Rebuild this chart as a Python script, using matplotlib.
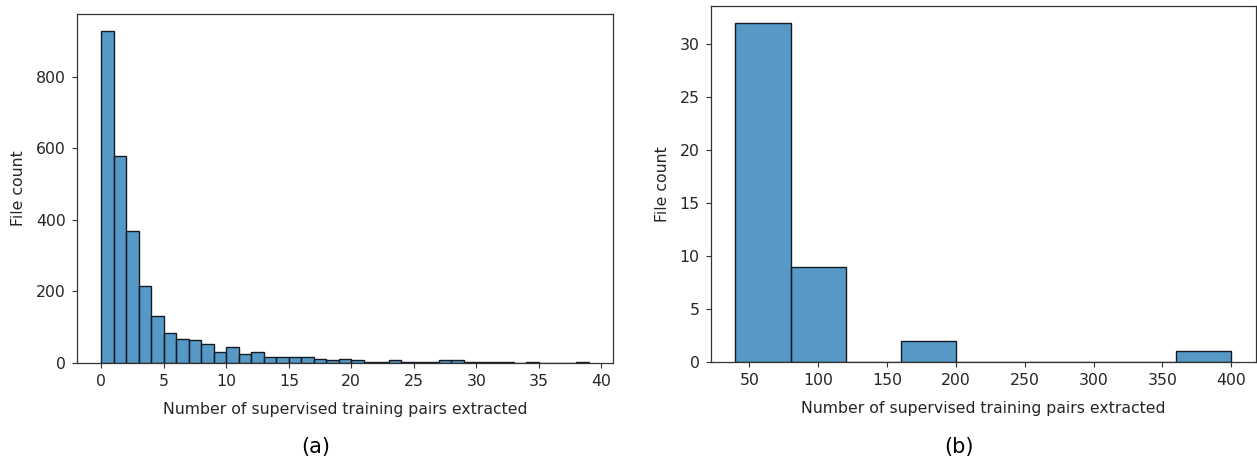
import numpy as np
import matplotlib
matplotlib.use("Agg")
import matplotlib.pyplot as plt

# Per-file counts of extracted supervised training pairs, binned
# (a) bins of width 1 over [0, 39]
small_bin_edges = list(range(0, 40))
small_counts = [929, 579, 369, 214, 130, 85, 67, 63, 53, 31,
                44, 26, 31, 17, 17, 17, 16, 11, 7, 11,
                7, 3, 3, 8, 3, 3, 3, 7, 7, 2,
                2, 2, 2, 0, 2, 0, 0, 0, 2]

# (b) bins of width 40 over [40, 400]
large_bin_edges = [40, 80, 120, 160, 200, 240, 280, 320, 360, 400]
large_counts = [32, 9, 0, 2, 0, 0, 0, 0, 1]

xlabel = "Number of supervised training pairs extracted"
ylabel = "File count"
captions = ["(a)", "(b)"]

face = (31 / 255, 119 / 255, 180 / 255, 0.75)
edge = (0.08, 0.1, 0.14, 1.0)
fs = 11.3

fig = plt.figure(figsize=(12.57, 4.63), dpi=100)
ax_a = fig.add_axes([0.0613, 0.216, 0.4264, 0.7538])
ax_b = fig.add_axes([0.5654, 0.2181, 0.4338, 0.7689])


def draw_hist(ax, edges, counts):
    edges = np.asarray(edges, dtype=float)
    centers = (edges[:-1] + edges[1:]) / 2
    ax.hist(centers, bins=edges, weights=counts, facecolor=face,
            edgecolor=edge, linewidth=1.0)
    ax.set_xlabel(xlabel, fontsize=fs, color="#262626", labelpad=9)
    ax.set_ylabel(ylabel, fontsize=fs, color="#262626", labelpad=7)
    ax.tick_params(labelsize=fs, labelcolor="#262626", color="#333333",
                   pad=4.5)
    for s in ax.spines.values():
        s.set_color("#333333")
        s.set_linewidth(0.9)


draw_hist(ax_a, small_bin_edges, small_counts)
draw_hist(ax_b, large_bin_edges, large_counts)

ax_a.set_xticks(range(0, 41, 5))
ax_a.set_yticks(range(0, 801, 200))
ax_b.set_xticks(range(50, 401, 50))
ax_b.set_yticks(range(0, 31, 5))

fig.text(316 / 1257, 1 - 447 / 463, captions[0], ha="center", va="center",
         fontsize=15, color="black")
fig.text(959 / 1257, 1 - 447 / 463, captions[1], ha="center", va="center",
         fontsize=15, color="black")

fig.savefig("out.png", dpi=100)
